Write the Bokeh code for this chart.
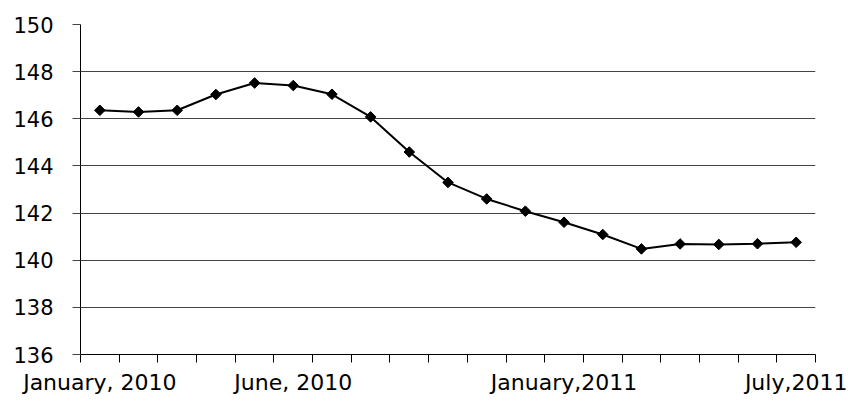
from bokeh.plotting import figure
from bokeh.models import FixedTicker, Range1d
from bokeh.embed import file_html
from bokeh.resources import INLINE
import math

months = list(range(19))  # Jan 2010 .. Jul 2011
values = [146.36, 146.29, 146.36, 147.03, 147.52, 147.41, 147.04, 146.08, 144.59,
          143.30, 142.60, 142.08, 141.61, 141.09, 140.48, 140.69, 140.67, 140.70, 140.76]
label_pos = [0, 5, 12, 18]
label_text = ["January, 2010", "June, 2010", "January,2011", "July,2011"]
y_ticks = [136, 138, 140, 142, 144, 146, 148, 150]

FONT = "DejaVu Sans"

p = figure(width=848, height=408, output_backend="svg", toolbar_location=None,
           x_range=Range1d(-0.5, 18.5), y_range=Range1d(136, 150),
           min_border_left=80, min_border_right=33, min_border_top=24, min_border_bottom=54)
p.outline_line_color = None
p.background_fill_color = "white"
p.border_fill_color = "white"

p.line(months, values, line_color="black", line_width=2)
p.scatter(months, values, marker="square", angle=math.pi / 4, size=7.5,
          fill_color="black", line_color="black")

# x axis
p.xaxis.ticker = FixedTicker(ticks=label_pos, minor_ticks=[i - 0.5 for i in range(20)])
p.xaxis.major_label_overrides = {k: v for k, v in zip(label_pos, label_text)}
p.xaxis.major_tick_out = 0
p.xaxis.major_tick_in = 0
p.xaxis.minor_tick_out = 8
p.xaxis.minor_tick_in = 0
p.xaxis.minor_tick_line_color = "black"
p.xaxis.axis_line_color = "black"
p.xaxis.major_label_standoff = 7
p.xaxis.major_label_text_font = FONT
p.xaxis.major_label_text_font_size = "22px"
p.xaxis.major_label_text_color = "black"
p.xgrid.grid_line_color = None

# y axis
p.yaxis.ticker = FixedTicker(ticks=y_ticks, minor_ticks=[])
p.yaxis.major_tick_out = 8
p.yaxis.major_tick_in = 0
p.yaxis.major_tick_line_color = "#444444"
p.yaxis.axis_line_color = "black"
p.yaxis.major_label_standoff = 19
p.yaxis.major_label_text_font = FONT
p.yaxis.major_label_text_font_size = "21px"
p.yaxis.major_label_text_color = "black"
p.ygrid.grid_line_color = "#444444"
p.ygrid.grid_line_width = 1

open("out.html", "w").write(file_html(p, INLINE))
